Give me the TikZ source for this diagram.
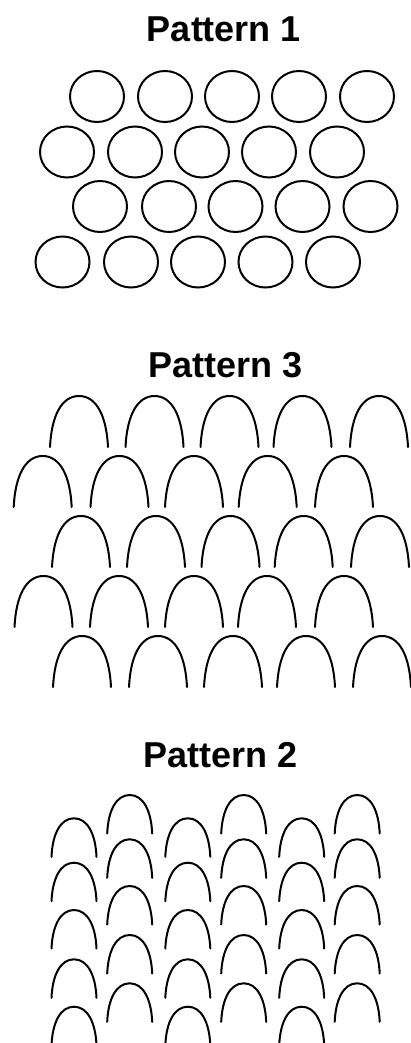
\documentclass[tikz,border=0pt]{standalone}
\usepackage{fontspec}
\setmainfont{Liberation Sans}
\begin{document}
\begin{tikzpicture}[x=1pt,y=-1pt,
  title/.style={font=\fontsize{36}{40}\selectfont\bfseries, anchor=base, inner sep=0pt},
  ring/.style={line width=2pt, black},
  archline/.style={line width=2pt, black, line cap=round}]
\useasboundingbox (0,0) rectangle (410,1043);
\fill[white] (0,0) rectangle (410,1043);
% big arch: half width 29, height 51 (bottom centre given)
\newcommand{\bigarch}[2]{%
  \draw[archline] (#1-29,#2) .. controls (#1-27.5,#2-31) and (#1-17.5,#2-51) .. (#1,#2-51)
     .. controls (#1+17.5,#2-51) and (#1+27.5,#2-31) .. (#1+29,#2);}
\newcommand{\smallarch}[2]{%
  \draw[archline] (#1-22.5,#2) .. controls (#1-21.5,#2-23) and (#1-13.5,#2-38.5) .. (#1,#2-38.5)
     .. controls (#1+13.5,#2-38.5) and (#1+21.5,#2-23) .. (#1+22.5,#2);}
% ---------- Pattern 1 ----------
\node[title] (t1) at (224,42) {Pattern 1};
\foreach \x in {97,165,232,299,367} \draw[ring] (\x,96.5) ellipse [x radius=27, y radius=25.5];
\foreach \x in {67,135,202,269,337} \draw[ring] (\x,152) ellipse [x radius=27, y radius=25.5];
\foreach \x in {100,169,235.5,302.5,370.5} \draw[ring] (\x,206.5) ellipse [x radius=27, y radius=25.5];
\foreach \x in {62.5,131,198,265.5,333} \draw[ring] (\x,262) ellipse [x radius=27, y radius=25.5];
% ---------- Pattern 3 ----------
\node[title] (t3) at (225.5,377) {Pattern 3};
\foreach \x in {79,154.5,229.5,302.5,379} {\bigarch{\x}{447}}
\foreach \x in {42.7,119.5,194,267.7,344} {\bigarch{\x}{507}}
\foreach \x in {81,156,230.5,303.7,380} {\bigarch{\x}{567}}
\foreach \x in {43.5,119,194,267,344} {\bigarch{\x}{627}}
\foreach \x in {82,158,233,306,382} {\bigarch{\x}{687}}
% ---------- Pattern 2 ----------
\node[title] (t2) at (220.5,767) {Pattern 2};
\foreach \x in {74,187.8,301.7}
  \foreach \t in {818.3,862.7,910,959.3,1006.7} {\smallarch{\x}{\t+38.5}}
\foreach \x in {129.7,243.7,357.2}
  \foreach \t in {795,839.3,886,935,983.3} {\smallarch{\x}{\t+38.5}}
\end{tikzpicture}
\end{document}
